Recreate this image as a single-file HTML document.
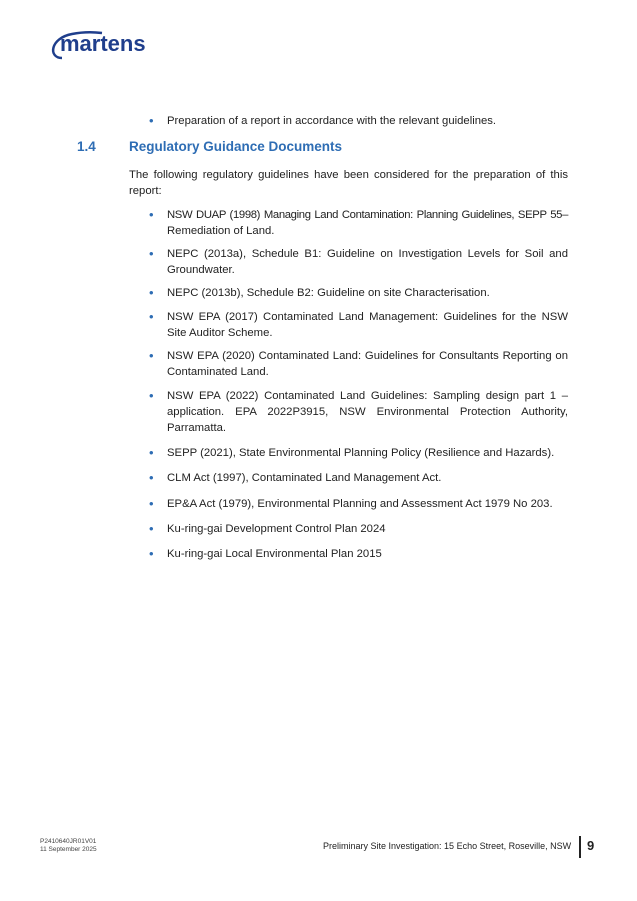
<!DOCTYPE html><html><head><style>
body{margin:0;width:637px;height:901px;background:#fff;position:relative;font-family:"Liberation Sans",sans-serif;color:#222;}
.a{position:absolute;}
.t{font-size:11.3px;line-height:16px;text-align:justify;}
.b{left:167px;width:401px;}
.d{position:absolute;left:-18px;top:0;color:#2e6db4;font-size:13px;}
.j{text-align:justify;text-align-last:justify;white-space:nowrap;}
</style></head><body>
<div class="a" style="left:42px;top:24px;">
<svg width="120" height="40"><path d="M20 34 C6 34 8 14 30 10 C40 8 52 8 60 9" stroke="#1f3e8c" stroke-width="2.5" fill="none"/>
<text x="18" y="27" font-family="Liberation Sans" font-weight="bold" font-size="22" fill="#1f3e8c">martens</text></svg></div>
<div class="a t b" style="top:113px;"><span class="d">•</span>Preparation of a report in accordance with the relevant guidelines.</div>
<div class="a" style="left:77px;top:139px;font-size:13.5px;font-weight:bold;color:#2e6db4;">1.4</div>
<div class="a" style="left:129px;top:139px;font-size:13.5px;font-weight:bold;color:#2e6db4;">Regulatory Guidance Documents</div>
<div class="a t" style="left:129px;width:439px;top:167px;">The following regulatory guidelines have been considered for the preparation of this report:</div>
<div class="a t b" style="top:207px;"><span class="d">•</span><div class="j" style="letter-spacing:-0.35px;">NSW DUAP (1998) Managing Land Contamination: Planning Guidelines, SEPP 55–</div>Remediation of Land.</div>
<div class="a t b" style="top:246px;"><span class="d">•</span>NEPC (2013a), Schedule B1: Guideline on Investigation Levels for Soil and Groundwater.</div>
<div class="a t b" style="top:285px;"><span class="d">•</span>NEPC (2013b), Schedule B2: Guideline on site Characterisation.</div>
<div class="a t b" style="top:309px;"><span class="d">•</span>NSW EPA (2017) Contaminated Land Management: Guidelines for the NSW Site Auditor Scheme.</div>
<div class="a t b" style="top:348px;"><span class="d">•</span>NSW EPA (2020) Contaminated Land: Guidelines for Consultants Reporting on Contaminated Land.</div>
<div class="a t b" style="top:388px;"><span class="d">•</span>NSW EPA (2022) Contaminated Land Guidelines: Sampling design part 1 – application. EPA 2022P3915, NSW Environmental Protection Authority, Parramatta.</div>
<div class="a t b" style="top:445px;"><span class="d">•</span>SEPP (2021), State Environmental Planning Policy (Resilience and Hazards).</div>
<div class="a t b" style="top:470px;"><span class="d">•</span>CLM Act (1997), Contaminated Land Management Act.</div>
<div class="a t b" style="top:496px;"><span class="d">•</span>EP&amp;A Act (1979), Environmental Planning and Assessment Act 1979 No 203.</div>
<div class="a t b" style="top:521px;"><span class="d">•</span>Ku-ring-gai Development Control Plan 2024</div>
<div class="a t b" style="top:546px;"><span class="d">•</span>Ku-ring-gai Local Environmental Plan 2015</div>
<div class="a" style="left:40px;top:838px;font-size:6.5px;line-height:8px;color:#444;">P2410640JR01V01<br>11 September 2025</div>
<div class="a" style="left:323px;top:841px;font-size:9px;color:#222;">Preliminary Site Investigation: 15 Echo Street, Roseville, NSW</div>
<div class="a" style="left:579px;top:836px;width:2px;height:22px;background:#222;"></div>
<div class="a" style="left:587px;top:838px;font-size:13px;font-weight:bold;">9</div>
</body></html>
